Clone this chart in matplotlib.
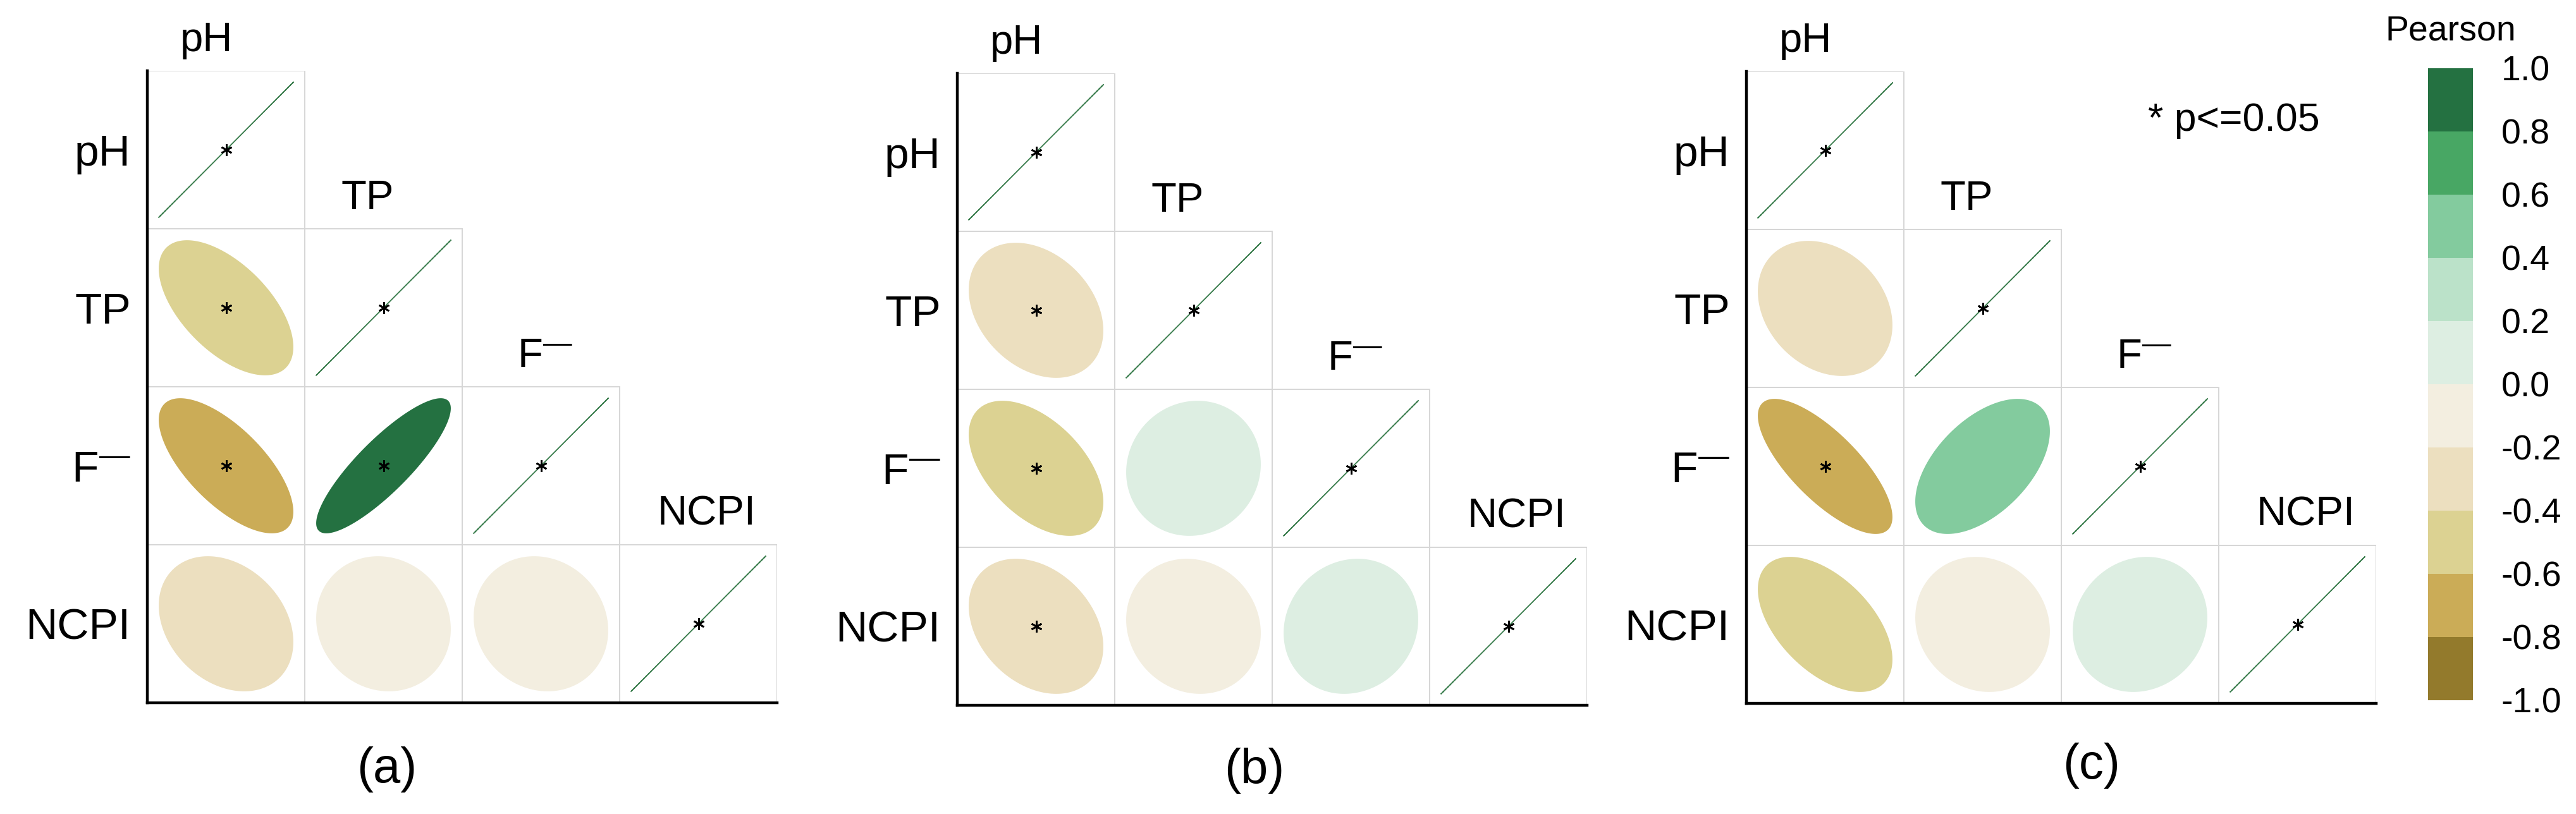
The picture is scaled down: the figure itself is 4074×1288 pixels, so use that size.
import numpy as np
import matplotlib.pyplot as plt
from matplotlib.colors import ListedColormap, BoundaryNorm
from matplotlib.cm import ScalarMappable
from matplotlib.patches import Rectangle

plt.rcParams['font.family'] = ['Liberation Sans', 'DejaVu Sans']
plt.rcParams['mathtext.fontset'] = 'custom'
plt.rcParams['mathtext.rm'] = 'Liberation Sans'
plt.rcParams['axes.unicode_minus'] = False

# variables (lower triangle of the correlation matrix)
variables = ['pH', 'TP', r'$\mathregular{F^{—}}$', 'NCPI']
panel_tags = ['(a)', '(b)', '(c)']

corr_a = [[1.0],
          [-0.58, 1.0],
          [-0.68, 0.85, 1.0],
          [-0.27, -0.08, -0.1, 1.0]]
sig_a = [[1],
         [1, 1],
         [1, 1, 1],
         [0, 0, 0, 1]]

corr_b = [[1.0],
          [-0.3, 1.0],
          [-0.5, 0.06, 1.0],
          [-0.3, -0.1, 0.1, 1.0]]
sig_b = [[1],
         [1, 1],
         [1, 0, 1],
         [1, 0, 0, 1]]

corr_c = [[1.0],
          [-0.25, 1.0],
          [-0.75, 0.52, 1.0],
          [-0.52, -0.1, 0.1, 1.0]]
sig_c = [[1],
         [0, 1],
         [1, 0, 1],
         [0, 0, 0, 1]]

# colour scale
pal = ['#937a2c', '#cbac57', '#dcd292', '#ecdfbf', '#f3eee0',
       '#ddeee2', '#bbe2c9', '#83cb9e', '#48a764', '#247141']
bounds = np.round(np.linspace(-1, 1, 11), 1) + 0.0
cmap = ListedColormap(pal)
norm = BoundaryNorm(bounds, cmap.N)

W, H = 4074, 1288
fig = plt.figure(figsize=(W / 100, H / 100), dpi=100)


def px_axes(x0, y0, x1, y1):
    return fig.add_axes([x0 / W, 1 - y1 / H, (x1 - x0) / W, (y1 - y0) / H])


def ell(r, n=200):
    # corrplot-style ellipse
    k = np.linspace(0, 2 * np.pi, n)
    d = np.arccos(np.clip(r, -1, 1))
    return np.cos(k + d / 2) / 2, np.cos(k - d / 2) / 2


def draw_panel(ax, corr, sig):
    n = len(variables)
    ax.set_xlim(0, n)
    ax.set_ylim(n, 0)
    ax.set_xticks([])
    ax.set_yticks([])
    for s in ['top', 'right']:
        ax.spines[s].set_visible(False)
    for s in ['left', 'bottom']:
        ax.spines[s].set_linewidth(3.2)
        ax.spines[s].set_zorder(5)
    scale = 0.855
    for i in range(n):
        for j in range(i + 1):
            ax.add_patch(Rectangle((j, i), 1, 1, fill=False,
                                   edgecolor='#d6d6d6', lw=1.4, zorder=1))
            r = corr[i][j]
            ex, ey = ell(r)
            cx, cy = j + 0.5, i + 0.5
            col = cmap(norm(r))
            if i == j:
                ax.plot(cx + scale * ex, cy - scale * ey, color='#3d7f50',
                        lw=1.1, zorder=2)
            else:
                ax.fill(cx + scale * ex, cy - scale * ey, color=col, lw=0,
                        zorder=2)
            if sig[i][j]:
                ax.plot(cx, cy, marker=(6, 2, 0), ms=13, mew=2.0,
                        color='black', zorder=3)
    col_off = [0.21, 0.23, 0.35, 0.24]
    for i, name in enumerate(variables):
        ax.text(-0.105, i + 0.6, name, ha='right', va='baseline',
                fontsize=50, clip_on=False)
        ax.text(i + col_off[i], i - 0.125, name, ha='left', va='baseline',
                fontsize=47, clip_on=False)


panels = [(corr_a, sig_a, (233, 112, 1229, 1112), (612, 1218)),
          (corr_b, sig_b, (1514, 116, 2510, 1116), (1984, 1219)),
          (corr_c, sig_c, (2762, 113, 3758, 1113), (3308, 1211))]

for (corr, sig, box, tag_pos), tag in zip(panels, panel_tags):
    ax = px_axes(*box)
    draw_panel(ax, corr, sig)
    fig.text(tag_pos[0] / W, 1 - tag_pos[1] / H, tag, ha='center',
             va='center', fontsize=56)

fig.text(3397 / W, 1 - 207 / H, '* p<=0.05', ha='left', va='baseline',
         fontsize=45)

cax = px_axes(3840, 108, 3911, 1108)
cb = fig.colorbar(ScalarMappable(norm=norm, cmap=cmap), cax=cax,
                  ticks=bounds)
cb.outline.set_visible(False)
cb.ax.tick_params(length=0, labelsize=40, pad=32)
cb.ax.set_yticklabels([f'{b:.1f}' for b in bounds])
fig.text(3876 / W, 1 - 50 / H, 'Pearson', ha='center', va='center',
         fontsize=40)

fig.savefig('out.png', dpi=100)
